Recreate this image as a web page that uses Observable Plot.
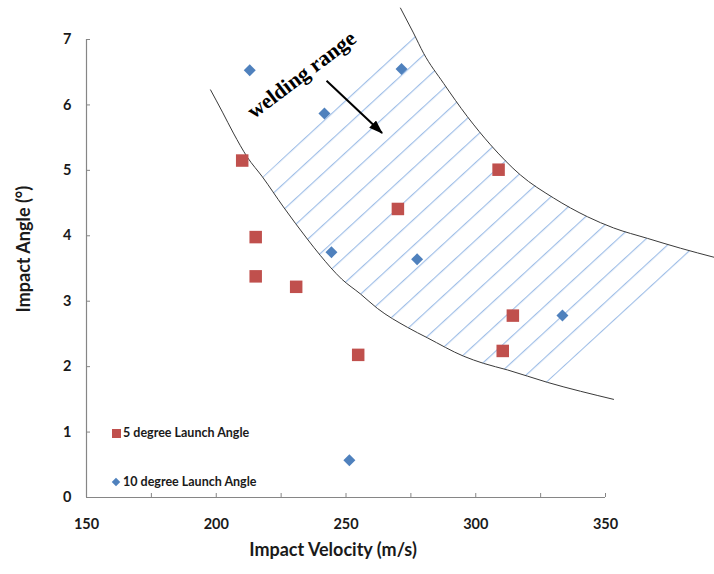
<!DOCTYPE html>
<html><head><meta charset="utf-8">
<script src="https://cdn.jsdelivr.net/npm/d3@7"></script>
<script src="https://cdn.jsdelivr.net/npm/@observablehq/plot@0.6"></script>
<style>
body{margin:0;background:#fff;}
#wrap{position:relative;width:714px;height:574px;}
.lg{position:absolute;font:bold 12.5px Lato, sans-serif;color:#1a1a1a;white-space:nowrap;line-height:14px;}
.sw{position:absolute;}
</style></head><body><div id="wrap"></div>
<script>
// Series: 5 degree launch angle (red squares)
const seriesNames = ["5 degree Launch Angle", "10 degree Launch Angle"];
const deg5Velocity = [210.0, 215.2, 215.2, 230.8, 254.7, 270.0, 308.8, 314.3, 310.4];
const deg5Angle    = [5.15, 3.98, 3.38, 3.22, 2.18, 4.41, 5.01, 2.78, 2.24];
// Series: 10 degree launch angle (blue diamonds)
const deg10Velocity = [212.9, 241.7, 271.4, 244.4, 277.4, 333.4, 251.3];
const deg10Angle    = [6.53, 5.87, 6.55, 3.75, 3.64, 2.78, 0.57];
// Welding-range boundary curves
const lowerVelocity = [197.8, 202.4, 206.6, 212.0, 217.8, 225.9, 235.1, 240.1, 248.3, 255.6, 262.1, 273.7, 281.4, 295.3, 303.0, 312.2, 327.6, 353.1];
const lowerAngle    = [6.23, 5.89, 5.57, 5.20, 4.90, 4.44, 3.95, 3.70, 3.34, 3.11, 2.89, 2.60, 2.44, 2.16, 2.05, 1.95, 1.76, 1.50];
const upperVelocity = [271.0, 276.0, 279.9, 287.6, 296.8, 305.7, 317.2, 329.9, 343.1, 353.1, 366.2, 378.9, 392.0];
const upperAngle    = [7.48, 7.10, 6.79, 6.33, 5.82, 5.39, 4.93, 4.58, 4.29, 4.12, 3.96, 3.81, 3.67];
// Hatched band: lower curve indices, upper curve indices, and its lower-right corner on the upper curve
const hatchLowerRange = [4, 16];
const hatchUpperRange = [1, 11];
const hatchCorner = [382.8, 3.76];
// Annotation
const annotationText = ["welding range"];
const annotationPos = [232.9, 6.46];
const arrowFrom = [242.5, 6.37];
const arrowTo = [263.9, 5.57];
// Axes
const xTicks = [150, 175, 200, 225, 250, 275, 300, 325, 350];
const xTickLabels = [150, 200, 250, 300, 350];
const yTicks = [0, 1, 2, 3, 4, 5, 6, 7];
const xTitle = "Impact Velocity (m/s)";
const yTitle = "Impact Angle (°)";

const red = "#C0504D", blue = "#4F81BD", axisGray = "#868686", curveColor = "#3a3a3a";

const pts5 = deg5Velocity.map((v, i) => ({v, a: deg5Angle[i]}));
const pts10 = deg10Velocity.map((v, i) => ({v, a: deg10Angle[i]}));
const lower = lowerVelocity.map((v, i) => ({v, a: lowerAngle[i]}));
const upper = upperVelocity.map((v, i) => ({v, a: upperAngle[i]}));
const hatch = [
  ...lower.slice(hatchLowerRange[0], hatchLowerRange[1] + 1),
  {v: hatchCorner[0], a: hatchCorner[1]},
  ...upper.slice(hatchUpperRange[0], hatchUpperRange[1] + 1).reverse()
];

const chart = Plot.plot({
  width: 714, height: 574,
  marginLeft: 86, marginRight: 109, marginTop: 39, marginBottom: 77,
  x: {domain: [150, 350]},
  y: {domain: [0, 7]},
  style: {fontFamily: "Lato, sans-serif", overflow: "visible", background: "#fff"},
  marks: [
    Plot.line(hatch, {x: "v", y: "a", fill: "url(#hatch)", stroke: "none"}),
    Plot.ruleY([0], {stroke: axisGray, strokeWidth: 1.2}),
    Plot.ruleX([150], {stroke: axisGray, strokeWidth: 1.2}),
    Plot.axisX(xTicks, {tickSize: 4, dy: -4, tickFormat: () => "", stroke: axisGray, label: null}),
    Plot.axisY(yTicks, {tickSize: 4, dx: 4, tickFormat: () => "", stroke: axisGray, label: null}),
    Plot.axisX(xTickLabels, {tickSize: 0, tickPadding: 21, tickFormat: d => String(d), fontSize: 14.5, fontWeight: "bold", fill: "#1a1a1a", label: null}),
    Plot.axisY(yTicks, {tickSize: 0, tickPadding: 15, tickFormat: d => String(d), fontSize: 14.5, fontWeight: "bold", fill: "#1a1a1a", label: null}),
    Plot.text([xTitle], {frameAnchor: "bottom", dy: 58, dx: -13, fontSize: 18, fontWeight: "bold", fill: "#1a1a1a"}),
    Plot.text([yTitle], {frameAnchor: "left", rotate: -90, dx: -62, dy: 44, fontSize: 18, fontWeight: "bold", fill: "#1a1a1a"}),
    Plot.line(lower, {x: "v", y: "a", curve: "monotone-x", stroke: curveColor, strokeWidth: 1}),
    Plot.line(upper, {x: "v", y: "a", curve: "monotone-x", stroke: curveColor, strokeWidth: 1}),
    Plot.dot(pts5, {x: "v", y: "a", symbol: "square", r: 7.05, fill: red, stroke: "none"}),
    Plot.dot(pts10, {x: "v", y: "a", symbol: "diamond2", r: 5.4, fill: blue, stroke: "none"}),
    Plot.link([0], {x1: arrowFrom[0], y1: arrowFrom[1], x2: arrowTo[0], y2: arrowTo[1], stroke: "#000", strokeWidth: 2, className: "arrowlink"}),
    Plot.text(annotationText, {x: annotationPos[0], y: annotationPos[1], rotate: -37, fontFamily: "Liberation Serif, Times New Roman, serif", fontWeight: "bold", fontSize: 21.5, fill: "#000"})
  ]
});

const defs = document.createElementNS("http://www.w3.org/2000/svg", "defs");
defs.innerHTML = `<pattern id="hatch" patternUnits="userSpaceOnUse" width="10" height="19.06" patternTransform="rotate(-42.6)"><line x1="-2" x2="12" y1="2.54" y2="2.54" stroke="#8FB4E3" stroke-width="1"/></pattern>
<marker id="ah" viewBox="0 0 14 10" refX="13" refY="5" markerWidth="14" markerHeight="10" markerUnits="userSpaceOnUse" orient="auto"><path d="M0,0L14,5L0,10z" fill="#000"/></marker>`;
chart.insertBefore(defs, chart.firstChild);
chart.querySelectorAll(".arrowlink path").forEach(p => p.setAttribute("marker-end", "url(#ah)"));

const wrap = document.getElementById("wrap");
wrap.appendChild(chart);

// Legend (inside plot area, lower left)
const legendItems = [
  {name: seriesNames[0], color: red, shape: "square", top: 433},
  {name: seriesNames[1], color: blue, shape: "diamond", top: 482}
];
legendItems.forEach(it => {
  const sw = document.createElement("div");
  sw.className = "sw";
  if (it.shape === "square") {
    Object.assign(sw.style, {left: "111.5px", top: (it.top - 4.5) + "px", width: "9px", height: "9px", background: it.color});
  } else {
    Object.assign(sw.style, {left: "113px", top: (it.top - 3) + "px", width: "6px", height: "6px", background: it.color, transform: "rotate(45deg)"});
  }
  wrap.appendChild(sw);
  const t = document.createElement("div");
  t.className = "lg";
  t.textContent = it.name;
  Object.assign(t.style, {left: "123px", top: (it.top - 7.5) + "px"});
  wrap.appendChild(t);
});
</script>
</body></html>
